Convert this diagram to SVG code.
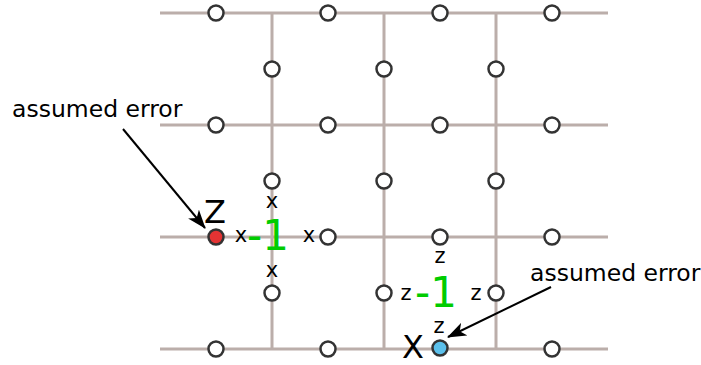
<svg xmlns="http://www.w3.org/2000/svg" width="701" height="365" viewBox="0 0 701 365">
  <style>
    .grid { stroke: #bbaeaa; stroke-width: 3; fill: none; }
    .q { fill: #ffffff; stroke: #333333; stroke-width: 2.5; }
    .t { font-family: "DejaVu Sans", sans-serif; fill: #000000; text-anchor: middle; }
    .lbl { font-size: 21px; }
    .big { font-size: 32px; }
    .neg { font-size: 42px; fill: #00cc00; }
    .note { font-family: "DejaVu Sans", sans-serif; font-size: 23.5px; fill: #000000; }
    .arrow { stroke: #000000; stroke-width: 2; fill: none; marker-end: url(#head); }
  </style>
  <defs>
    <marker id="head" markerWidth="19" markerHeight="14" refX="18" refY="7" orient="auto" markerUnits="userSpaceOnUse">
      <path d="M0,0 L19,7 L0,14 L5,7 Z" fill="#000000"/>
    </marker>
  </defs>

  <rect width="701" height="365" fill="#ffffff"/>

  <!-- lattice edges -->
  <g id="connectors">
    <line class="grid" x1="160" y1="13" x2="608" y2="13"/>
    <line class="grid" x1="160" y1="125" x2="608" y2="125"/>
    <line class="grid" x1="160" y1="237" x2="608" y2="237"/>
    <line class="grid" x1="160" y1="349" x2="608" y2="349"/>
    <line class="grid" x1="272" y1="13" x2="272" y2="349"/>
    <line class="grid" x1="384" y1="13" x2="384" y2="349"/>
    <line class="grid" x1="496" y1="13" x2="496" y2="349"/>
    <line class="arrow" x1="123" y1="129" x2="205" y2="228"/>
    <line class="arrow" x1="551" y1="287" x2="448" y2="337"/>
  </g>

  <!-- qubits on horizontal edges -->
  <g id="row0">
    <circle class="q" cx="216" cy="13" r="7.5"/>
    <circle class="q" cx="328" cy="13" r="7.5"/>
    <circle class="q" cx="440" cy="13" r="7.5"/>
    <circle class="q" cx="552" cy="13" r="7.5"/>
  </g>
  <g id="row1">
    <circle class="q" cx="216" cy="125" r="7.5"/>
    <circle class="q" cx="328" cy="125" r="7.5"/>
    <circle class="q" cx="440" cy="125" r="7.5"/>
    <circle class="q" cx="552" cy="125" r="7.5"/>
  </g>
  <g id="row2">
    <circle class="q" cx="216" cy="237" r="7.5" style="fill:#e33333"/>
    <circle class="q" cx="328" cy="237" r="7.5"/>
    <circle class="q" cx="440" cy="237" r="7.5"/>
    <circle class="q" cx="552" cy="237" r="7.5"/>
  </g>
  <g id="row3">
    <circle class="q" cx="216" cy="349" r="7.5"/>
    <circle class="q" cx="328" cy="349" r="7.5"/>
    <circle class="q" cx="440" cy="348" r="7.5" style="fill:#5bc0eb"/>
    <circle class="q" cx="552" cy="349" r="7.5"/>
  </g>
  <!-- qubits on vertical edges -->
  <g id="col0">
    <circle class="q" cx="272" cy="69" r="7.5"/>
    <circle class="q" cx="272" cy="181" r="7.5"/>
    <circle class="q" cx="272" cy="293" r="7.5"/>
  </g>
  <g id="col1">
    <circle class="q" cx="384" cy="69" r="7.5"/>
    <circle class="q" cx="384" cy="181" r="7.5"/>
    <circle class="q" cx="384" cy="293" r="7.5"/>
  </g>
  <g id="col2">
    <circle class="q" cx="496" cy="69" r="7.5"/>
    <circle class="q" cx="496" cy="181" r="7.5"/>
    <circle class="q" cx="496" cy="293" r="7.5"/>
  </g>

  <!-- vertex (star) check -->
  <g id="star">
    <text class="t big" x="215" y="223">Z</text>
    <text class="t lbl" x="241" y="242">x</text>
    <text class="t lbl" x="309" y="242">x</text>
    <text class="t lbl" x="272" y="208">x</text>
    <text class="t lbl" x="272" y="277">x</text>
    <text class="t neg" x="268" y="250">-1</text>
  </g>

  <!-- plaquette check -->
  <g id="plaquette">
    <text class="t big" x="413" y="358">X</text>
    <text class="t lbl" x="440" y="263">z</text>
    <text class="t lbl" x="406" y="300">z</text>
    <text class="t lbl" x="476" y="300">z</text>
    <text class="t lbl" x="439" y="333">z</text>
    <text class="t neg" x="436" y="307">-1</text>
  </g>

  <g id="notes">
    <text class="note" x="12" y="117">assumed error</text>
    <text class="note" x="530" y="281">assumed error</text>
  </g>
</svg>
